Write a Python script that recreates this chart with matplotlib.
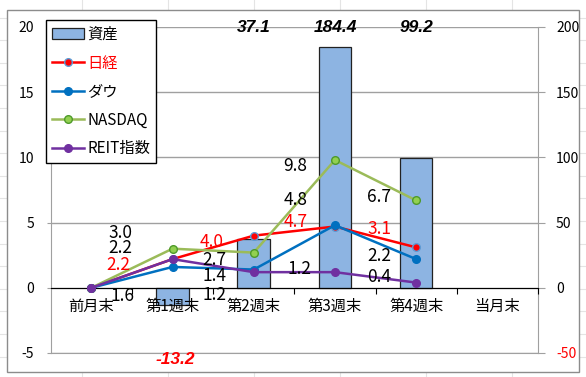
import numpy as np
import matplotlib
matplotlib.use('Agg')
import matplotlib.pyplot as plt
from matplotlib.patches import Rectangle

plt.rcParams['font.family'] = ['Noto Sans CJK JP', 'DejaVu Sans']
plt.rcParams['axes.unicode_minus'] = False

# ---- data ----
categories = ['前月末', '第1週末', '第2週末', '第3週末', '第4週末', '当月末']
assets = [np.nan, -13.2, 37.1, 184.4, 99.2, np.nan]      # 右軸
nikkei = [0, 2.2, 4.0, 4.7, 3.1, np.nan]                 # 左軸
dow    = [0, 1.6, 1.4, 4.8, 2.2, np.nan]
nasdaq = [0, 3.0, 2.7, 9.8, 6.7, np.nan]
reit   = [0, 2.2, 1.2, 1.2, 0.4, np.nan]

left_ticks = [-5, 0, 5, 10, 15, 20]
right_ticks = [-50, 0, 50, 100, 150, 200]

BAR   = '#8DB4E2'
RED   = '#FF0000'
BLUE  = '#0070C0'
GREEN = '#9BBB59'
PURP  = '#7030A0'
GRID  = '#A0A0A0'

W, H = 586, 377
fig = plt.figure(figsize=(W/100, H/100), dpi=100)

# 背景（シートの罫線とグラフ枠）
bg = fig.add_axes([0, 0, 1, 1], zorder=-10)
bg.set_xlim(0, W); bg.set_ylim(H, 0); bg.axis('off')
for x in np.arange(-4, W, 86):
    bg.axvline(x, color='#E4E4E4', lw=0.8, zorder=1)
for y in np.arange(17.5, H, 22.6):
    bg.axhline(y, color='#E4E4E4', lw=0.8, zorder=1)
bg.add_patch(Rectangle((7, 10), 572, 362, facecolor='white', edgecolor='#8C8C8C',
                       lw=1, zorder=5))

pos = [50.7/W, 1-353/H, (538-50.7)/W, (353-27)/H]
ax = fig.add_axes(pos)
ax2 = ax.twinx()
ax.set_zorder(ax2.get_zorder()+1)
ax.patch.set_visible(False)
ax2.patch.set_visible(False)

x = np.arange(len(categories))

# 資産（棒・右軸）
bars = ax2.bar(x, assets, width=0.4, color=BAR, edgecolor='#222222', linewidth=0.9, zorder=2)
ax2.set_ylim(-50, 200)
ax2.set_yticks(right_ticks)
ax2.yaxis.grid(True, color=GRID, lw=1, zorder=0)
ax2.set_axisbelow(True)
ax2.tick_params(axis='y', length=5, color=GRID, labelsize=10, pad=8)
ax2.get_yticklabels()[0].set_color(RED)
for s in ['top', 'left']:
    ax2.spines[s].set_visible(False)
for s in ['right', 'bottom']:
    ax2.spines[s].set_color(GRID)

for i, v in enumerate(assets):
    if np.isnan(v):
        continue
    if v >= 0:
        ax2.annotate(f'{v:.1f}', (i, 200), ha='center', va='center',
                     fontsize=12.5, fontweight='bold', fontstyle='italic',
                     family='Liberation Sans', color='black')
    else:
        ax2.annotate(f'{v:.1f}', (i, -50), xytext=(3, -6), textcoords='offset pixels',
                     ha='center', va='center', fontsize=12.5, fontweight='bold',
                     fontstyle='italic', family='Liberation Sans', color=RED)

# 指数（折れ線・左軸）
series = [
    ('日経', nikkei, RED, RED, '#5B9BD5'),
    ('ダウ', dow, BLUE, BLUE, BLUE),
    ('NASDAQ', nasdaq, GREEN, '#92D050', '#4E9A2A'),
    ('REIT指数', reit, PURP, PURP, PURP),
]
lines = []
for name, vals, c, mfc, mec in series:
    ln, = ax.plot(x, vals, color=c, lw=1.8, marker='o', ms=5.5,
                  mfc=mfc, mec=mec, mew=1, zorder=3)
    lines.append(ln)

# データラベル位置（点からのずれ, px）
offsets = {
    '日経':     [None, (-54, -6), (-42, -6), (-39, 5), (-37, 18)],
    'ダウ':     [None, (-50, -29), (-39, -6), (-39, 25), (-37, 3)],
    'NASDAQ':  [None, (-52, 16), (-39, -7), (-40, -6), (-37, 3)],
    'REIT指数': [None, (-52, 11), (-39, -23), (-35, 3), (-37, 6)],
}
for name, vals, c, mfc, mec in series:
    tc = RED if name == '日経' else 'black'
    for i, v in enumerate(vals):
        if i >= len(offsets[name]) or offsets[name][i] is None or np.isnan(v):
            continue
        ax.annotate(f'{v:.1f}', (i, v), xytext=offsets[name][i], textcoords='offset pixels',
                    ha='center', va='center', fontsize=12.5, color=tc, zorder=4)

ax.set_xlim(-0.5, len(categories)-0.5)
ax.set_ylim(-5, 20)
ax.set_yticks(left_ticks)
ax.tick_params(axis='y', length=3, color=GRID, labelsize=10, pad=9)
ax.spines['left'].set_color(GRID)
ax.spines['top'].set_visible(False)
ax.spines['right'].set_visible(False)
ax.spines['bottom'].set_position(('data', 0))
ax.spines['bottom'].set_color('black')
ax.set_xticks(np.arange(0.5, len(categories), 1))
ax.set_xticklabels([])
ax.set_xticks(x, minor=True)
ax.set_xticklabels(categories, minor=True)
ax.tick_params(axis='x', which='major', length=4, color='black')
ax.tick_params(axis='x', which='minor', length=0, labelsize=11, pad=7)

handles = [bars] + lines
labels = ['資産'] + [s[0] for s in series]
leg = ax.legend(handles, labels, loc='upper left', bbox_to_anchor=(46/W, 1-20/H),
                bbox_transform=fig.transFigure, borderaxespad=0, fontsize=11,
                fancybox=False, framealpha=1, edgecolor='black', handlelength=2.1,
                handletextpad=0.2, labelspacing=0.75, borderpad=0.4)
leg.get_frame().set_linewidth(1)
leg.set_zorder(10)
leg.get_texts()[1].set_color(RED)

fig.savefig('out.png', dpi=100)
